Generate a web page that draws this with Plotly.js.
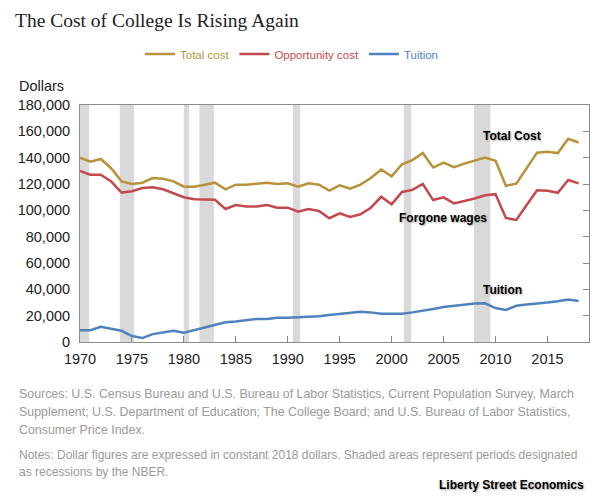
<!DOCTYPE html>
<html>
<head>
<meta charset="utf-8">
<script src="https://cdn.plot.ly/plotly-3.0.1.min.js"></script>
<style>
  html, body { margin: 0; padding: 0; background: #fff; }
  #plotdiv { width: 615px; height: 496px; }
</style>
</head>
<body>
<div id="plotdiv"></div>
<script>
// years and series (constant 2018 dollars)
var years = [1970, 1971, 1972, 1973, 1974, 1975, 1976, 1977, 1978, 1979,
    1980, 1981, 1982, 1983, 1984, 1985, 1986, 1987, 1988, 1989,
    1990, 1991, 1992, 1993, 1994, 1995, 1996, 1997, 1998, 1999,
    2000, 2001, 2002, 2003, 2004, 2005, 2006, 2007, 2008, 2009,
    2010, 2011, 2012, 2013, 2014, 2015, 2016, 2017, 2018];

var totalCost = [140000, 137000, 139000, 132000, 122000, 120000, 121000, 124500, 124000, 122000,
    118000, 118000, 119500, 121000, 116000, 119500, 119500, 120000, 121000, 120000,
    120500, 118000, 120500, 119500, 115000, 119000, 116500, 119500, 124500, 131000,
    125800, 135000, 138200, 143500, 132500, 136200, 132800, 135500, 137500, 140000,
    137700, 118700, 120300, 132000, 143800, 144500, 143500, 154300, 151500];

var opportunityCost = [130000, 127000, 127000, 122000, 113500, 114500, 117000, 117500, 116000, 113000,
    110000, 108500, 108000, 108000, 101000, 104000, 103000, 103000, 104000, 102000,
    102000, 99000, 101000, 99500, 94000, 97700, 95000, 97000, 102000, 110300,
    104600, 114000, 115500, 120000, 107800, 109900, 105300, 107000, 109000, 111500,
    112300, 94200, 92700, 104000, 115300, 114800, 113300, 123000, 120500];

var tuition = [9000, 9000, 11500, 10000, 8500, 4500, 3000, 6000, 7000, 8500,
    7000, 9000, 11500, 13500, 15000, 15500, 16500, 17500, 17500, 18500,
    18500, 18800, 19200, 19600, 20500, 21500, 22000, 23000, 22500, 21500,
    21500, 21500, 22500, 23500, 25000, 26500, 27500, 28500, 29200, 29400,
    25800, 24300, 27500, 28500, 29000, 30000, 31000, 32300, 31100];

// NBER recessions (start, end as decimal years)
var recessionStart = [1969.92, 1973.83, 1980.0, 1981.5, 1990.5, 2001.17, 2007.92];
var recessionEnd = [1970.88, 1975.2, 1980.5, 1982.88, 1991.2, 2001.88, 2009.5];

var seriesNames = ['Total cost', 'Opportunity cost', 'Tuition'];
var seriesColors = ['#b8913a', '#c4494f', '#4f81bd'];

var sourceLines = [
    'Sources: U.S. Census Bureau and U.S. Bureau of Labor Statistics, Current Population Survey, March',
    'Supplement; U.S. Department of Education; The College Board; and U.S. Bureau of Labor Statistics,',
    'Consumer Price Index.'
];
var noteLines = [
    'Notes: Dollar figures are expressed in constant 2018 dollars. Shaded areas represent periods designated',
    'as recessions by the NBER.'
];

// plot box in pixels
var L = 80, R = 26, T = 105, B = 154;
var W = 615, H = 496;
var plotH = H - T - B;
var plotW = W - L - R;

function py(pix) { return (H - B - pix) / plotH; }
function px(pix) { return (pix - L) / plotW; }

var sans = 'Liberation Sans, Arial, sans-serif';

var data = [];
var allY = [totalCost, opportunityCost, tuition];
for (var i = 0; i < 3; ++i) {
    data.push({
        x: years,
        y: allY[i],
        mode: 'lines',
        type: 'scatter',
        yaxis: i == 2 ? 'y2' : 'y',
        name: '<span style="color:' + seriesColors[i] + '">' + seriesNames[i] + '</span>',
        line: { color: seriesColors[i], width: 2.5 },
        hoverinfo: 'x+y'
    });
}

var shapes = [];
for (var k = 0; k < recessionStart.length; ++k) {
    shapes.push({
        type: 'rect', xref: 'x', yref: 'paper',
        x0: recessionStart[k], x1: recessionEnd[k], y0: 0, y1: 1,
        fillcolor: '#d9d9d9', line: { width: 0 }, layer: 'below'
    });
}

var halo = '1px 1px 2px #aaa';
var annotations = [
    { text: 'Dollars', xref: 'paper', yref: 'paper', x: px(17), y: py(86),
      xanchor: 'left', yanchor: 'middle', showarrow: false,
      font: { family: sans, size: 14.5, color: '#222' } },
    { text: '<b>Total Cost</b>', xref: 'x', yref: 'y', x: 2011.6, y: 156500,
      showarrow: false, font: { family: sans, size: 12, color: '#000', shadow: halo } },
    { text: '<b>Forgone wages</b>', xref: 'x', yref: 'y', x: 2004.9, y: 94200,
      showarrow: false, font: { family: sans, size: 12, color: '#000', shadow: halo } },
    { text: '<b>Tuition</b>', xref: 'x', yref: 'y', x: 2010.7, y: 39500,
      showarrow: false, font: { family: sans, size: 12, color: '#000', shadow: halo } },
    { text: '<b>Liberty Street Economics</b>', xref: 'paper', yref: 'paper', x: px(586), y: py(485),
      xanchor: 'right', yanchor: 'middle', showarrow: false,
      font: { family: sans, size: 12, color: '#000', shadow: halo } }
];

var lineY = [394, 412, 430];
for (var j = 0; j < sourceLines.length; ++j) {
    annotations.push({ text: sourceLines[j], xref: 'paper', yref: 'paper',
        x: px(17), y: py(lineY[j]), xanchor: 'left', yanchor: 'middle', showarrow: false,
        font: { family: sans, size: 12.4, color: '#9a9a9a' } });
}
var noteY = [455, 472];
for (var j = 0; j < noteLines.length; ++j) {
    annotations.push({ text: noteLines[j], xref: 'paper', yref: 'paper',
        x: px(17), y: py(noteY[j]), xanchor: 'left', yanchor: 'middle', showarrow: false,
        font: { family: sans, size: 12, color: '#9a9a9a' } });
}

var layout = {
    width: W, height: H,
    margin: { l: L, r: R, t: T, b: B, pad: 0 },
    paper_bgcolor: '#fff', plot_bgcolor: 'rgba(0,0,0,0)',
    font: { family: sans, size: 14, color: '#222' },
    title: {
        text: 'The Cost of College Is Rising Again',
        x: 15 / W, xanchor: 'left', y: 1 - 20 / H, yanchor: 'middle',
        font: { family: 'Liberation Serif, Times New Roman, serif', size: 19.5, color: '#222' }
    },
    showlegend: true,
    legend: {
        orientation: 'h', x: px(140), xanchor: 'left', y: py(54), yanchor: 'middle',
        font: { family: sans, size: 11.5 }, bgcolor: 'rgba(0,0,0,0)'
    },
    xaxis: {
        range: [1970, 2019], tickvals: [1970, 1975, 1980, 1985, 1990, 1995, 2000, 2005, 2010, 2015],
        ticks: 'inside', ticklen: 6, tickcolor: '#888',
        showline: true, mirror: true, linecolor: '#8c8c8c', linewidth: 1,
        showgrid: false, zeroline: false, ticklabelstandoff: 4,
        tickfont: { family: sans, size: 14.5, color: '#222' }
    },
    yaxis: {
        range: [0, 180000], dtick: 20000, tickformat: ',d',
        ticks: '', showline: true, mirror: true, linecolor: '#8c8c8c', linewidth: 1,
        showgrid: false, zeroline: false, ticklabelstandoff: 6,
        tickfont: { family: sans, size: 14.5, color: '#222' }
    },
    yaxis2: {
        range: [0, 180000], dtick: 20000, overlaying: 'y', side: 'right',
        ticks: 'inside', ticklen: 6, tickcolor: '#888',
        showticklabels: false, showline: false, showgrid: false, zeroline: false
    },
    shapes: shapes,
    annotations: annotations
};

Plotly.newPlot('plotdiv', data, layout, { displayModeBar: false, staticPlot: true });
</script>
</body>
</html>
